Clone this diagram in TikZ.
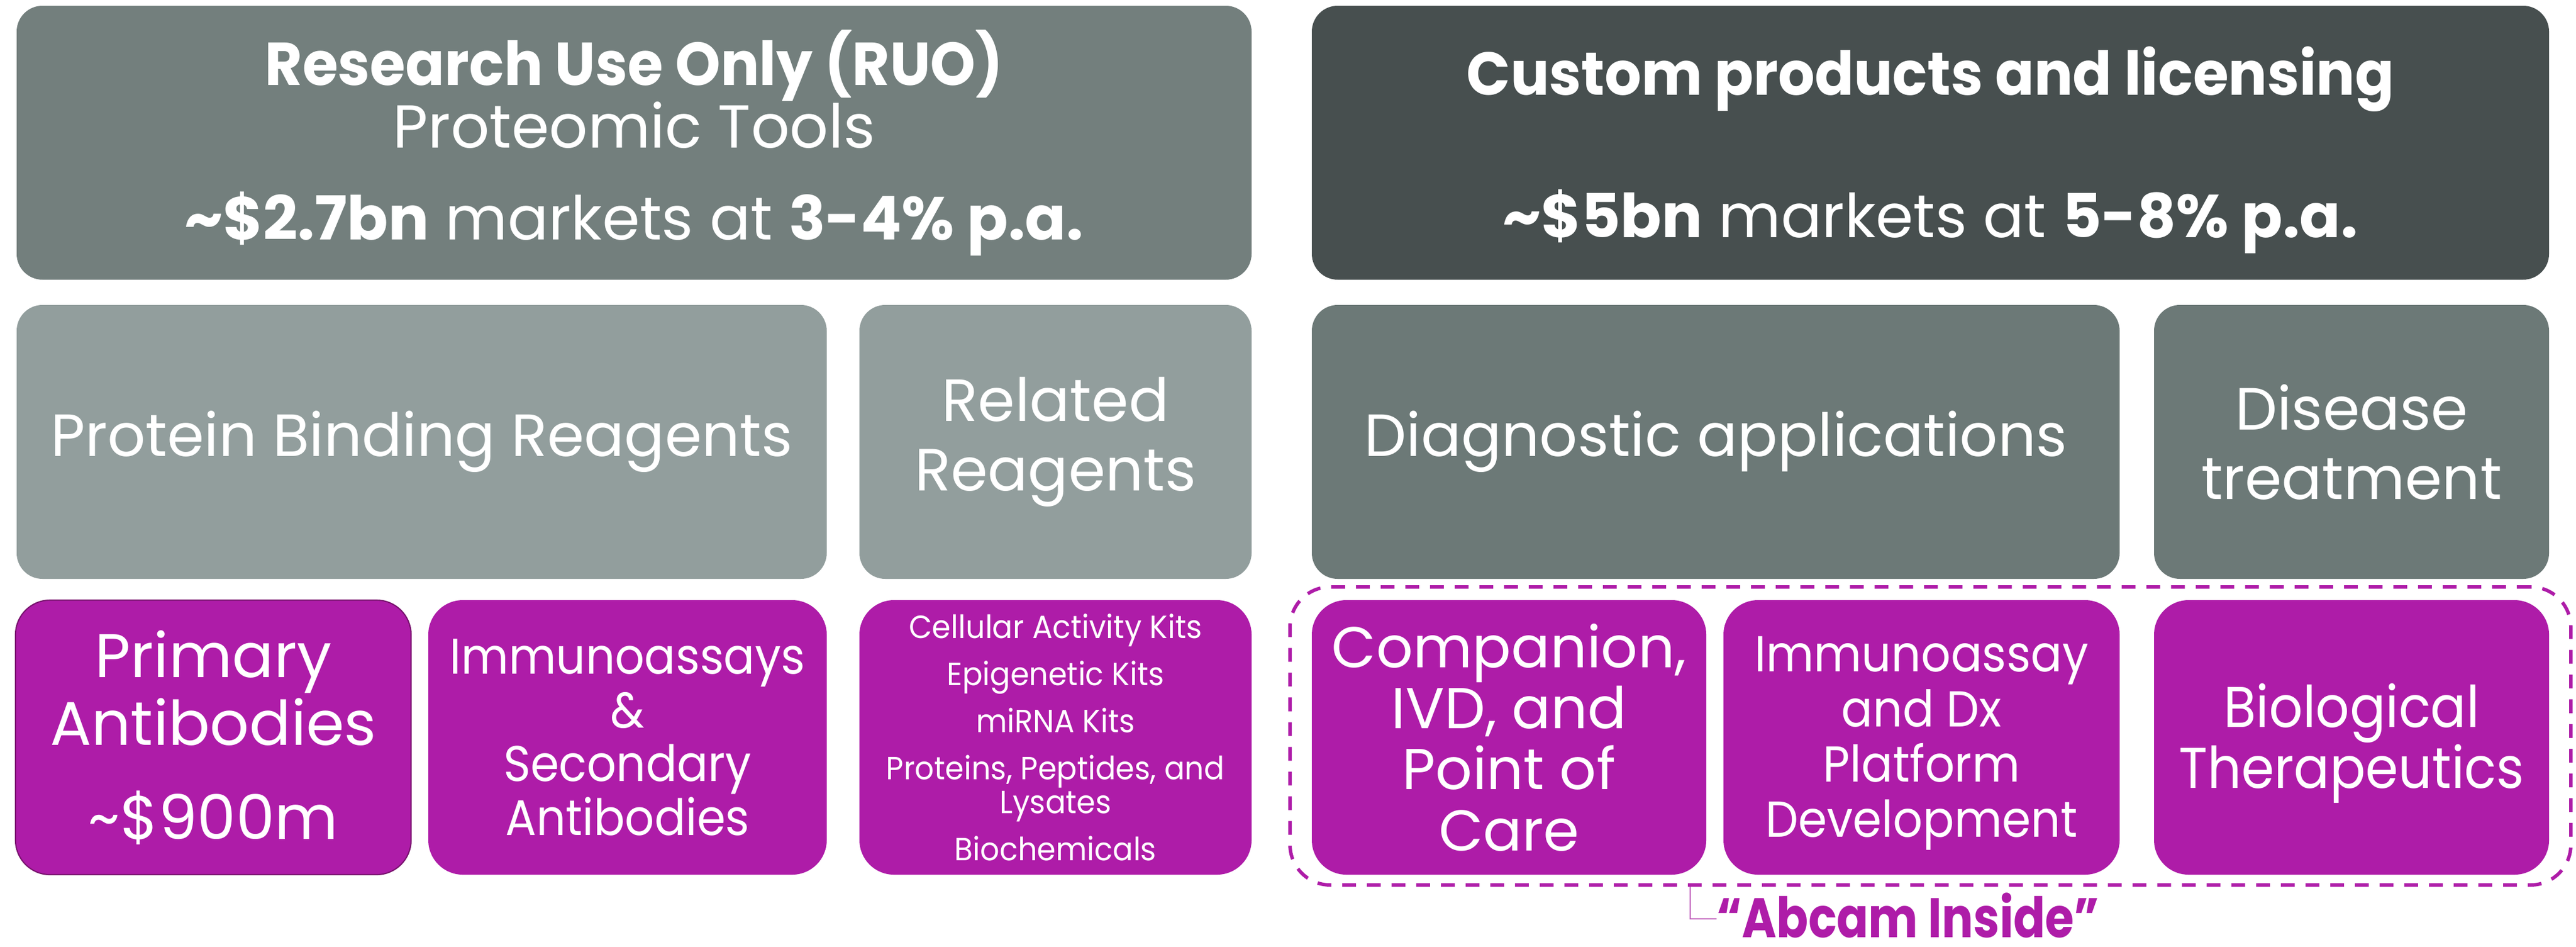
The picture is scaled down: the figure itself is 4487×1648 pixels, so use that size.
\documentclass[tikz,border=0pt]{standalone}
\usepackage{fontspec}
\setmainfont{Poppins}
\newfontfamily\condA[FakeStretch=0.92]{Poppins}
\newfontfamily\condK[FakeStretch=0.94]{Poppins}
\newfontfamily\condT[FakeStretch=0.95]{Poppins}
\newfontfamily\condB[FakeStretch=0.84]{Poppins}
\definecolor{gtop}{RGB}{115,127,125}
\definecolor{gdark}{RGB}{71,79,79}
\definecolor{glight}{RGB}{146,158,157}
\definecolor{gmid}{RGB}{108,121,119}
\definecolor{purp}{RGB}{174,28,168}
\definecolor{purpedge}{RGB}{120,18,110}
\definecolor{purpline}{RGB}{190,90,185}
\begin{document}
\begin{tikzpicture}[x=0.01cm,y=-0.01cm,
  sz/.style 2 args={minimum width=#1*0.01cm, minimum height=#2*0.01cm},
  box/.style={rounded corners=0.45cm, inner sep=0pt, text=white, align=center},
  pbox/.style={box, fill=purp, rounded corners=0.6cm},
  txt/.style={inner sep=0pt, text=white, align=center},
  fsz/.style 2 args={font=\fontsize{#1}{#2}\selectfont},
  csz/.style 2 args={font=\condA\fontsize{#1}{#2}\selectfont},
  ksz/.style 2 args={font=\condK\fontsize{#1}{#2}\selectfont},
  dashbox/.style={draw=purp, line width=1.7pt, dash pattern=on 0.24cm off 0.19cm, rounded corners=0.7cm, inner sep=0pt},
]
\useasboundingbox (0,0) rectangle (4487,1648);
\fill[white] (0,0) rectangle (4487,1648);

% top row
\node[box, fill=gtop, sz={2151}{477}, fsz={30}{31}] (ruo) at (1104.5,248.5)
  {{\condT\bfseries Research Use Only (RUO)}\\ Proteomic Tools\\[14.5pt]
   {\bfseries \textasciitilde\$2.7bn} markets at {\bfseries 3-4\% p.a.}};
\node[box, fill=gdark, sz={2155}{477}] (custom) at (3362.5,248.5) {};
\node[txt, fsz={30}{31}] (customtxt) at (3362.5,261.5)
  {{\condT\bfseries Custom products and licensing}\\[37.5pt]
   {\bfseries \textasciitilde\$5bn} markets at {\bfseries 5-8\% p.a.}};

% second row
\node[box, fill=glight, sz={1411}{477}, fsz={29.5}{34.4}] (protein) at (734.5,769.5)
  {Protein Binding Reagents};
\node[box, fill=glight, sz={683}{477}, fsz={29.5}{34.4}] (related) at (1838.5,769.5)
  {Related\\Reagents};
\node[box, fill=gmid, sz={1407}{477}, fsz={29.5}{34.4}] (diag) at (2988.5,769.5)
  {Diagnostic applications};
\node[box, fill=gmid, sz={688}{477}, fsz={29.5}{34.4}] (disease) at (4096,769.5)
  {Disease\\treatment};

% third row
\node[pbox, draw=purpedge, line width=0.6pt, sz={689}{478}, fsz={30.5}{33.6}] (primary) at (371.5,1284)
  {Primary\\Antibodies\\[13pt]\textasciitilde\$900m};
\node[pbox, sz={694}{478}, csz={24.8}{26.7}] (immuno) at (1093,1284)
  {Immunoassays\\\&\\Secondary\\Antibodies};
\node[pbox, sz={683}{478}, ksz={15.9}{16.8}] (kits) at (1838.5,1284)
  {Cellular Activity Kits\\[6.5pt] Epigenetic Kits\\[6.5pt] miRNA Kits\\[6.5pt]
   Proteins, Peptides, and\\ Lysates\\[6.5pt] Biochemicals};
\node[pbox, sz={687}{478}, fsz={28.5}{30.2}] (companion) at (2628.5,1284)
  {Companion,\\IVD, and\\Point of\\Care};
\node[pbox, sz={690}{478}] (dx) at (3347,1284) {};
\node[txt, csz={25}{27.3}] (dxtxt) at (3347,1294)
  {Immunoassay\\and Dx\\Platform\\Development};
\node[pbox, sz={688}{478}] (bio) at (4096,1284) {};
\node[txt, csz={28.5}{30.2}] (biotxt) at (4096,1294)
  {Biological\\Therapeutics};

% dashed group
\node[dashbox, sz={2231}{519}] (inside) at (3362.5,1281.5) {};

% label
\node[anchor=base west, inner sep=0pt, text=purp, font=\condB\fontsize{27.6}{30}\selectfont\bfseries] (abcam) at (2990,1632)
  {“Abcam Inside”};
\coordinate (brk) at (2944,1600);
\draw[purpline, line width=0.6pt] (inside.south -| brk) -- (brk) -- (abcam.west |- brk);
\end{tikzpicture}
\end{document}
